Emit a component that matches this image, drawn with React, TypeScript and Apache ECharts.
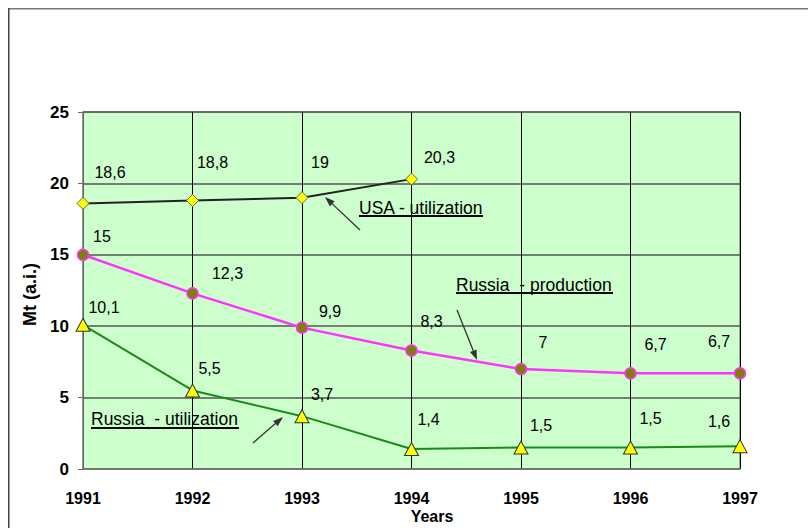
import React, { useEffect, useRef } from "react";
import * as echarts from "echarts";

const years = ["1991", "1992", "1993", "1994", "1995", "1996", "1997"];
const usaUtilization = [18.6, 18.8, 19, 20.3];
const russiaProduction = [15, 12.3, 9.9, 8.3, 7, 6.7, 6.7];
const russiaUtilization = [10.1, 5.5, 3.7, 1.4, 1.5, 1.5, 1.6];

// label offsets (layout only)
const usaOffsets = [[27, -31], [20, -38], [18, -35], [28, -22]];
const prodOffsets = [[19, -18], [35, -20], [28, -16], [20, -29], [22, -27], [25, -29], [-21, -32]];
const utilOffsets = [[21, -17], [17, -22], [20, -22], [17, -30], [20, -22], [20, -29], [-21, -25]];

const FONT = "Arial, 'Liberation Sans', sans-serif";

function fmt(p: any) {
  return String(p.value).replace(".", ",");
}

function withLabels(values: number[], offsets: number[][]) {
  return values.map((v, i) => ({ value: v, label: { offset: offsets[i] } }));
}

function arrow(x1: number, y1: number, x2: number, y2: number) {
  const ang = Math.atan2(y2 - y1, x2 - x1);
  const L = 10, W = 3.5;
  const bx = x2 - L * Math.cos(ang), by = y2 - L * Math.sin(ang);
  const px = -Math.sin(ang) * W, py = Math.cos(ang) * W;
  return [
    { type: "line", shape: { x1, y1, x2: bx, y2: by }, style: { stroke: "#333", lineWidth: 1.3 }, z: 100 },
    { type: "polygon", shape: { points: [[x2, y2], [bx + px, by + py], [bx - px, by - py]] }, style: { fill: "#333" }, z: 100 },
  ];
}

function annotation(text: string, x: number, y: number, ux2: number, uy: number) {
  return [
    { type: "text", x, y, style: { text, font: `17.5px ${FONT}`, fill: "#000", textVerticalAlign: "middle" }, z: 100 },
    { type: "line", shape: { x1: x, y1: uy, x2: ux2, y2: uy }, style: { stroke: "#000", lineWidth: 1.8 }, z: 100 },
  ];
}

export default function App() {
  const ref = useRef<HTMLDivElement>(null);
  useEffect(() => {
    if (!ref.current) return;
    const chart = echarts.init(ref.current, undefined, { renderer: "svg" });
    const labelStyle = {
      show: true,
      position: "inside",
      formatter: fmt,
      color: "#000",
      fontSize: 16,
      fontFamily: FONT,
    };
    chart.setOption({
      animation: false,
      backgroundColor: "#fff",
      grid: {
        left: 75,
        top: 104,
        right: 68,
        bottom: 59,
        show: true,
        backgroundColor: "#ccffcc",
        borderColor: "#666",
        borderWidth: 1,
      },
      xAxis: {
        type: "category",
        data: years,
        boundaryGap: false,
        axisLine: { show: true, lineStyle: { color: "#777", width: 1.5 } },
        axisTick: { show: false },
        axisLabel: { color: "#000", fontWeight: "bold", fontSize: 16, fontFamily: FONT, margin: 21 },
        splitLine: { show: true, lineStyle: { color: "#000", width: 1 } },
      },
      yAxis: {
        type: "value",
        min: 0,
        max: 25,
        interval: 5,
        name: "Mt (a.i.)",
        nameLocation: "middle",
        nameGap: 37,
        nameTextStyle: { color: "#000", fontWeight: "bold", fontSize: 18, fontFamily: FONT, padding: [0, 8, 0, 0] },
        axisLine: { show: true, lineStyle: { color: "#888", width: 1.5 } },
        axisTick: { show: true, inside: false, length: 5, lineStyle: { color: "#666" } },
        axisLabel: { color: "#000", fontWeight: "bold", fontSize: 17, fontFamily: FONT, margin: 14 },
        splitLine: { show: true, lineStyle: { color: "#555", width: 1.5 } },
      },
      series: [
        {
          name: "USA - utilization",
          type: "line",
          data: withLabels(usaUtilization, usaOffsets),
          symbol: "diamond",
          symbolSize: 12,
          lineStyle: { color: "#222", width: 2 },
          itemStyle: { color: "#ffff00", borderColor: "#666", borderWidth: 1 },
          label: labelStyle,
          z: 3,
        },
        {
          name: "Russia - production",
          type: "line",
          data: withLabels(russiaProduction, prodOffsets),
          symbol: "circle",
          symbolSize: 11,
          lineStyle: { color: "#ff33ff", width: 2.5 },
          itemStyle: { color: "#7f7f00", borderColor: "#ff33ff", borderWidth: 1.5 },
          label: labelStyle,
          z: 3,
        },
        {
          name: "Russia - utilization",
          type: "line",
          data: withLabels(russiaUtilization, utilOffsets),
          symbol: "triangle",
          symbolSize: [14, 13],
          lineStyle: { color: "#1a8a1a", width: 2 },
          itemStyle: { color: "#ffff00", borderColor: "#333", borderWidth: 1 },
          label: labelStyle,
          z: 3,
        },
      ],
      graphic: [
        { type: "line", shape: { x1: 0, y1: 0.5, x2: 800, y2: 0.5 }, style: { stroke: "#777", lineWidth: 2 } },
        { type: "line", shape: { x1: 0.5, y1: 0, x2: 0.5, y2: 520 }, style: { stroke: "#444", lineWidth: 2 } },
        { type: "text", x: 424, y: 508, style: { text: "Years", font: `bold 16px ${FONT}`, fill: "#000", textAlign: "center", textVerticalAlign: "middle" } },
        ...annotation("USA - utilization", 351, 200, 475, 208),
        ...annotation("Russia  - production", 448, 277, 605, 285),
        ...annotation("Russia  - utilization", 83, 411, 231, 420),
        ...arrow(352, 222, 317, 189),
        ...arrow(449, 302, 469, 352),
        ...arrow(245, 435, 275, 409),
      ],
    });
    return () => chart.dispose();
  }, []);
  return (
    <div
      ref={ref}
      style={{ position: "fixed", left: 8, top: 8, width: 800, height: 520 }}
    />
  );
}
